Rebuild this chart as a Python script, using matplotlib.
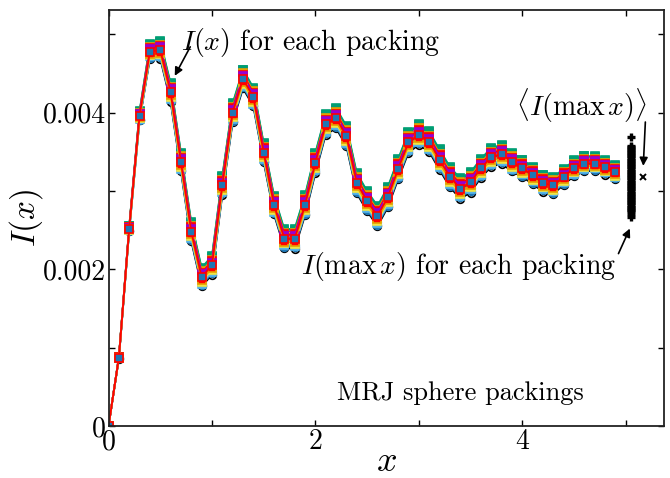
import numpy as np
import matplotlib
matplotlib.use("Agg")
import matplotlib.pyplot as plt

plt.rcParams['font.family'] = 'serif'
plt.rcParams['font.serif'] = ['cmr10', 'DejaVu Serif']
plt.rcParams['mathtext.fontset'] = 'cm'
plt.rcParams['axes.unicode_minus'] = False

# ---- data ----
x_vals = [0.0, 0.1, 0.2, 0.3, 0.4, 0.5, 0.6, 0.7, 0.8, 0.9,
          1.0, 1.1, 1.2, 1.3, 1.4, 1.5, 1.6, 1.7, 1.8, 1.9,
          2.0, 2.1, 2.2, 2.3, 2.4, 2.5, 2.6, 2.7, 2.8, 2.9,
          3.0, 3.1, 3.2, 3.3, 3.4, 3.5, 3.6, 3.7, 3.8, 3.9,
          4.0, 4.1, 4.2, 4.3, 4.4, 4.5, 4.6, 4.7, 4.8, 4.9]
I_mean = [0.0, 0.00087, 0.00252, 0.00396, 0.00478, 0.00480, 0.00426, 0.00337, 0.00248, 0.00190,
          0.00205, 0.00307, 0.00400, 0.00443, 0.00420, 0.00349, 0.00282, 0.00239, 0.00239, 0.00282,
          0.00336, 0.00385, 0.00393, 0.00370, 0.00310, 0.00287, 0.00268, 0.00292, 0.00328, 0.00362,
          0.00372, 0.00363, 0.00340, 0.00318, 0.00303, 0.00311, 0.00329, 0.00343, 0.00347, 0.00337,
          0.00329, 0.00320, 0.00310, 0.00307, 0.00318, 0.00329, 0.00335, 0.00335, 0.00330, 0.00324]
# half width of the band of packing curves at each x
band_half = [0.0, 0.00001, 0.00003, 0.00006, 0.00009, 0.00011, 0.00012, 0.00012, 0.00012, 0.00012,
             0.00012, 0.00012, 0.00012, 0.00012, 0.00012, 0.00012, 0.00012, 0.00012, 0.00013, 0.00013,
             0.00013, 0.00013, 0.00013, 0.00013, 0.00013, 0.00013, 0.00013, 0.00013, 0.00013, 0.00013,
             0.00013, 0.00013, 0.00013, 0.00013, 0.00013, 0.00013, 0.00012, 0.00012, 0.00012, 0.00012,
             0.00011, 0.00011, 0.00011, 0.00011, 0.00010, 0.00010, 0.00010, 0.00009, 0.00009, 0.00009]
# relative position of each packing within the band
packing_dev = [-1.0, -0.85, 0.9, -0.6, 0.7, 0.5, -0.4, 0.35, -0.2, 0.2, 1.0, -0.7, 0.6, 0.1, -0.1,
               0.45, -0.5, 0.3, -0.3, 0.0]
packing_color = ['#000000', '#1f77b4', '#009E73', '#56B4E9', '#9400D3', '#F0E442', '#1f77b4', '#E69F00',
                 '#CC79A7', '#F0E442', '#009E73', '#56B4E9', '#E69F00', '#D55E00', '#0072B2',
                 '#FF0000', '#F0E442', '#9400D3', '#E69F00', '#FF0000']
packing_face = ['white', '#1f77b4', '#009E73', 'none', '#9400D3', '#F0E442', '#1f77b4', '#E69F00',
                '#CC79A7', '#F0E442', '#009E73', '#56B4E9', '#E69F00', '#D55E00', '#0072B2',
                '#FF0000', '#F0E442', '#9400D3', '#FF0000', '#1f77b4']
packing_marker = ['o', 'o', 's', 'o', 's', 's', 's', 's', 's', 's', 's', 's', 's', 's', 's',
                  's', 's', 's', 's', 's']

# I(max x) for each packing
I_maxx = [0.00369, 0.00358, 0.00356, 0.00354, 0.00352, 0.00350, 0.00348, 0.00346, 0.00344,
          0.00342, 0.00340, 0.00338, 0.00336, 0.00334, 0.00332, 0.00330, 0.00328, 0.00326,
          0.00324, 0.00322, 0.00320, 0.00318, 0.00316, 0.00314, 0.00312, 0.00310, 0.00308,
          0.00306, 0.00304, 0.00302, 0.00300, 0.00298, 0.00296, 0.00294, 0.00292, 0.00290,
          0.00288, 0.00286, 0.00284, 0.00282, 0.00280, 0.00278, 0.00276, 0.00274, 0.00271, 0.00267]
x_bar = 5.05
I_maxx_mean = 0.00318
x_mean = 5.17

xticks = [0, 2, 4]
xtick_labels = ['0', '2', '4']
xticks_minor = [1, 3, 5]
yticks = [0, 0.002, 0.004]
ytick_labels = ['0', '0.002', '0.004']
yticks_minor = [0.001, 0.003, 0.005]

# ---- figure ----
fig = plt.figure(figsize=(6.7, 4.78), dpi=100)
ax = fig.add_axes([0.162, 0.109, 0.829, 0.870])

xv = np.array(x_vals)
mean = np.array(I_mean)
half = np.array(band_half)
for dev, c, fc, m in zip(packing_dev, packing_color, packing_face, packing_marker):
    y = mean + dev * half
    ax.plot(xv, y, '-', color=c, lw=1.3, marker=m, ms=5.5,
            mfc=fc, mec=c, mew=1.2, zorder=2)

ax.plot([x_bar] * len(I_maxx), I_maxx, linestyle='none', marker='+',
        ms=6, mew=2.4, color='k', zorder=3)
ax.plot([x_mean], [I_maxx_mean], linestyle='none', marker='x', ms=5, mew=1.4,
        color='k', zorder=3)

ax.set_xlim(0, 5.37)
ax.set_ylim(0, 0.00531)
ax.set_xticks(xticks)
ax.set_xticklabels(xtick_labels)
ax.set_xticks(xticks_minor, minor=True)
ax.set_yticks(yticks)
ax.set_yticklabels(ytick_labels)
ax.set_yticks(yticks_minor, minor=True)
ax.tick_params(which='both', direction='in', top=True, right=True, length=4.5,
               width=1.0, labelsize=20, pad=2)
for s in ax.spines.values():
    s.set_linewidth(1.3)
    s.set_color('#222222')

ax.set_xlabel('$x$', fontsize=26)
ax.set_ylabel('$I(x)$', fontsize=24)
ax.xaxis.set_label_coords(0.5, -0.05)
ax.yaxis.set_label_coords(-0.115, 0.5)

arrow = dict(arrowstyle='-|>', color='k', lw=1.2, mutation_scale=12, shrinkA=0, shrinkB=0)
ax.annotate('', xy=(0.64, 0.00447), xytext=(0.79, 0.00484), arrowprops=arrow)
ax.text(0.70, 0.00489, '$I(x)$ for each packing', fontsize=20, ha='left', va='center')

ax.annotate('', xy=(5.17, 0.00332), xytext=(5.19, 0.00388), arrowprops=arrow)
ax.text(4.575, 0.00409, r'$\langle I(\max\, x)\rangle$', fontsize=20, ha='center', va='center')

ax.annotate('', xy=(5.04, 0.00252), xytext=(4.93, 0.00220), arrowprops=arrow)
ax.text(3.385, 0.00203, r'$I(\max\, x)$ for each packing', fontsize=20, ha='center', va='center')

ax.text(3.405, 0.00042, 'MRJ sphere packings', fontsize=19, ha='center', va='center')

fig.savefig('out.png', dpi=100)
